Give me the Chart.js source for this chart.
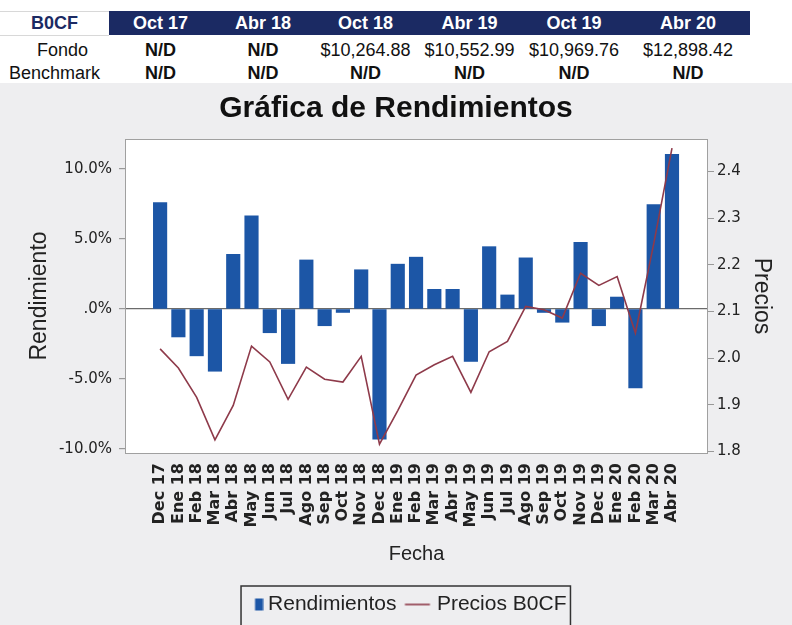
<!DOCTYPE html>
<html><head><meta charset="utf-8">
<script src="https://cdn.jsdelivr.net/npm/chart.js@4.4.0/dist/chart.umd.min.js"></script>
<style>
html,body{margin:0;padding:0;background:#fff;}
body{width:792px;height:625px;position:relative;overflow:hidden;font-family:'Liberation Sans',Arial,sans-serif;}
#hdr{position:absolute;left:109px;top:11px;width:641px;height:24px;background:#1b2a63;}
#b0line{position:absolute;left:0;top:11px;width:109px;height:23px;border-top:1px solid #d8d8d8;border-bottom:1px solid #d8d8d8;}
.cell{position:absolute;text-align:center;font-size:18px;line-height:24px;color:#111;white-space:nowrap;}
#wrap{position:absolute;left:0;top:83px;width:792px;height:542px;background:#eeeef0;}
</style></head><body>
<div id="b0line"></div>
<div id="hdr"></div>
<div id="tbl"></div>
<div id="wrap"><canvas id="c" width="792" height="542"></canvas></div>
<script>
const fundName = 'B0CF';
const rowNames = ['Fondo', 'Benchmark'];
const tableCols = ['Oct 17', 'Abr 18', 'Oct 18', 'Abr 19', 'Oct 19', 'Abr 20'];
const fondoVals = ['N/D', 'N/D', '$10,264.88', '$10,552.99', '$10,969.76', '$12,898.42'];
const benchVals = ['N/D', 'N/D', 'N/D', 'N/D', 'N/D', 'N/D'];

const months = ['Dec 17','Ene 18','Feb 18','Mar 18','Abr 18','May 18','Jun 18','Jul 18','Ago 18','Sep 18','Oct 18','Nov 18',
  'Dec 18','Ene 19','Feb 19','Mar 19','Abr 19','May 19','Jun 19','Jul 19','Ago 19','Sep 19','Oct 19','Nov 19',
  'Dec 19','Ene 20','Feb 20','Mar 20','Abr 20'];
const rendimientos = [7.6, -2.0, -3.35, -4.45, 3.9, 6.65, -1.7, -3.9, 3.5, -1.2, -0.25, 2.8,
  -9.3, 3.2, 3.7, 1.4, 1.4, -3.75, 4.45, 1.0, 3.65, -0.25, -0.95, 4.75,
  -1.2, 0.85, -5.65, 7.45, 11.05];
const precios = [2.02, 1.979, 1.916, 1.825, 1.899, 2.026, 1.992, 1.912, 1.981, 1.955, 1.949, 2.004,
  1.816, 1.888, 1.964, 1.986, 2.004, 1.927, 2.014, 2.036, 2.111, 2.104, 2.086, 2.182,
  2.156, 2.175, 2.054, 2.245, 2.45];
const leftTicks = [10, 5, 0, -5, -10];
const rightTicks = [2.4, 2.3, 2.2, 2.1, 2.0, 1.9, 1.8];

// ---- table ----
const colEdges = [0, 109, 212, 314, 417, 522, 626, 750];
const rowTops = [11, 38, 61];
const tbl = document.getElementById('tbl');
function addCell(txt, col, row, opts) {
  const d = document.createElement('div');
  d.className = 'cell';
  d.textContent = txt;
  d.style.left = colEdges[col] + 'px';
  d.style.width = (colEdges[col + 1] - colEdges[col]) + 'px';
  d.style.top = rowTops[row] + 'px';
  if (opts.bold) d.style.fontWeight = 'bold';
  if (opts.color) d.style.color = opts.color;
  if (opts.shift) d.style.paddingLeft = opts.shift + 'px';
  tbl.appendChild(d);
}
addCell(fundName, 0, 0, {bold: true, color: '#1b2a63'});
tableCols.forEach((t, i) => addCell(t, i + 1, 0, {bold: true, color: '#fff'}));
addCell(rowNames[0], 0, 1, {shift: 8});
fondoVals.forEach((t, i) => addCell(t, i + 1, 1, {bold: t === 'N/D'}));
addCell(rowNames[1], 0, 2, {});
benchVals.forEach((t, i) => addCell(t, i + 1, 2, {bold: t === 'N/D'}));

// ---- legend icons ----
const barColor = '#1c56a6';
const lineColor = '#8e3a4a';
const sqImg = document.createElement('canvas');
sqImg.width = 32; sqImg.height = 14;
(function(){ const g = sqImg.getContext('2d'); g.fillStyle = barColor; g.fillRect(23.5, 1, 8, 12); })();
const lnImg = document.createElement('canvas');
lnImg.width = 32; lnImg.height = 14;
(function(){ const g = lnImg.getContext('2d'); g.strokeStyle = lineColor; g.lineWidth = 1.6; g.beginPath(); g.moveTo(4.5, 7); g.lineTo(29.5, 7); g.stroke(); })();
const legendIcons = [sqImg, lnImg];

const plotBg = {
  id: 'plotBg',
  beforeDraw(chart) {
    const {ctx, chartArea: a} = chart;
    ctx.save(); ctx.fillStyle = '#ffffff'; ctx.fillRect(a.left, a.top, a.right - a.left, a.bottom - a.top); ctx.restore();
  },
  afterLayout(chart) {
    if (chart.legend) { chart.legend.left += 6; chart.legend.right += 6; }
  },
  afterDraw(chart) {
    const {ctx, chartArea: a} = chart;
    ctx.save();
    ctx.strokeStyle = '#a0a0a0'; ctx.lineWidth = 1;
    ctx.strokeRect(a.left + 0.5, a.top + 0.5, a.right - a.left - 1, a.bottom - a.top);
    const lg = chart.legend;
    const pad = lg.options.labels.padding;
    const lw = lg.lineWidths[0];
    const x1 = (lg.left + pad + lg.right - lw) / 2;
    const l = x1 + 3.5, r = x1 + lw - pad + 4;
    ctx.strokeStyle = '#333'; ctx.lineWidth = 1.5;
    ctx.strokeRect(l, lg.top + 2, r - l, 80);
    ctx.restore();
  }
};

new Chart(document.getElementById('c'), {
  type: 'bar',
  data: {
    datasets: [
      { type: 'bar', label: 'Rendimientos', data: months.map((m, i) => ({x: i, y: rendimientos[i]})),
        backgroundColor: barColor, barThickness: 13.5, yAxisID: 'y', order: 2 },
      { type: 'line', label: 'Precios B0CF', data: months.map((m, i) => ({x: i, y: precios[i]})),
        borderColor: lineColor, borderWidth: 1.6, pointRadius: 0, tension: 0, yAxisID: 'y1', order: 1 }
    ]
  },
  options: {
    responsive: false, animation: false, devicePixelRatio: 1,
    layout: {padding: 0},
    plugins: {
      tooltip: {enabled: false},
      title: {display: true, text: 'Gráfica de Rendimientos', color: '#111',
        font: {family: 'Liberation Sans', size: 30, weight: 'bold'}, padding: {top: 7.5, bottom: 12.5}},
      legend: {
        position: 'bottom',
        labels: {
          usePointStyle: true, pointStyleWidth: 20, padding: 10, color: '#222',
          font: {family: 'Liberation Sans', size: 21},
          generateLabels: (chart) => chart.data.datasets.map((ds, i) => ({
            text: ds.label, pointStyle: legendIcons[i], fillStyle: 'rgba(0,0,0,0)', strokeStyle: 'rgba(0,0,0,0)',
            lineWidth: 0, hidden: false, datasetIndex: i, fontColor: '#222'
          }))
        }
      }
    },
    scales: {
      x: {
        type: 'linear', min: -1.92, max: 29.97, offset: false,
        afterBuildTicks: s => { s.ticks = months.map((m, i) => ({value: i})); },
        afterFit: s => { s.height = 131; },
        ticks: {autoSkip: false, minRotation: 90, maxRotation: 90, padding: 10, color: '#222',
          font: {family: 'DejaVu Sans', size: 16, weight: 'bold'}, callback: (v) => months[v]},
        grid: {display: false, drawTicks: false},
        border: {display: false},
        title: {display: true, text: 'Fecha', color: '#222', font: {family: 'Liberation Sans', size: 20},
          padding: {top: 0, bottom: 18}}
      },
      y: {
        type: 'linear', position: 'left', min: -10.29, max: 12.14,
        afterBuildTicks: s => { s.ticks = leftTicks.map(v => ({value: v})); },
        afterFit: s => { s.width = 125; },
        ticks: {padding: 7, color: '#222', font: {family: 'DejaVu Sans', size: 15},
          callback: v => v === 0 ? '.0%' : v.toFixed(1) + '%'},
        grid: {drawOnChartArea: true, tickLength: 6, tickColor: '#999', lineWidth: 1.2,
          color: c => (c.tick && c.tick.value === 0) ? '#6b6b6b' : 'rgba(0,0,0,0)'},
        border: {display: false},
        title: {display: true, text: 'Rendimiento', color: '#222', font: {family: 'Liberation Sans', size: 23},
          padding: {top: 26, bottom: 0}}
      },
      y1: {
        type: 'linear', position: 'right', min: 1.797, max: 2.4696,
        afterBuildTicks: s => { s.ticks = rightTicks.map(v => ({value: v})); },
        afterFit: s => { s.width = 84; },
        ticks: {padding: 3, color: '#222', font: {family: 'DejaVu Sans', size: 15},
          callback: v => v.toFixed(1)},
        grid: {drawOnChartArea: false, tickLength: 6, tickColor: '#999'},
        border: {display: false},
        title: {display: true, text: 'Precios', color: '#222', font: {family: 'Liberation Sans', size: 23},
          padding: {top: 16.5, bottom: 0}}
      }
    }
  },
  plugins: [plotBg]
});
</script>
</body></html>
